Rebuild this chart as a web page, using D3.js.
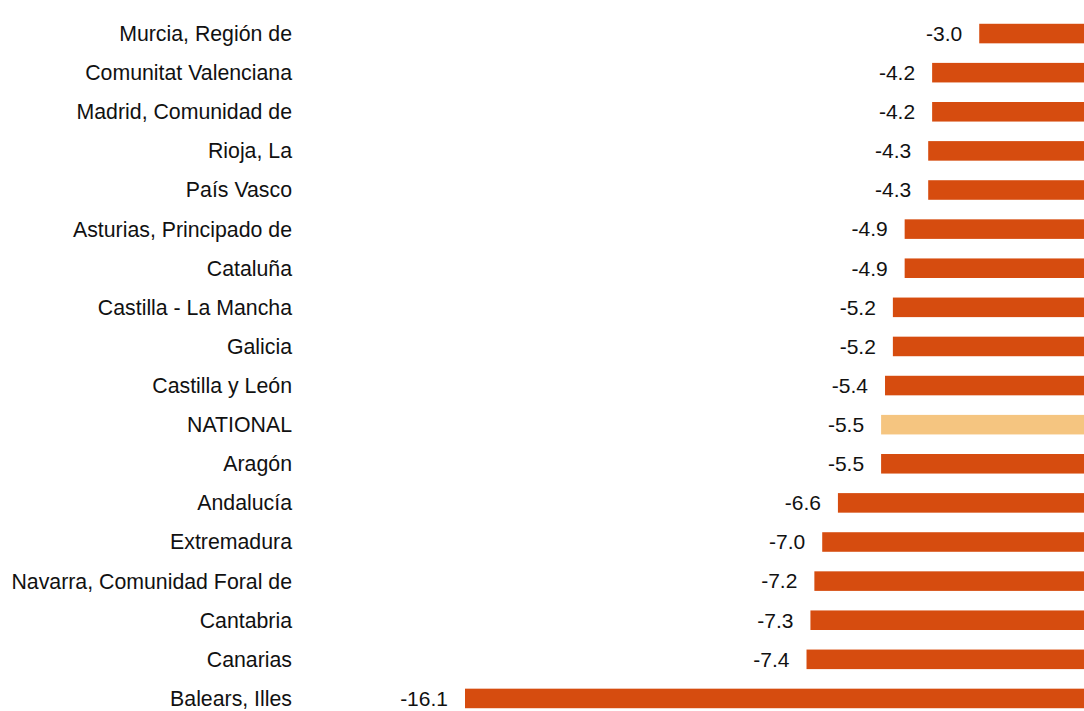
<!DOCTYPE html>
<html>
<head>
<meta charset="utf-8">
<script src="https://cdn.jsdelivr.net/npm/d3@7"></script>
<style>
  body { margin: 0; background: #fff; }
  text { font-family: "Liberation Sans", Arial, sans-serif; fill: #111; }
</style>
</head>
<body>
<div id="bar_chart"></div>
<script>
// regions, sorted from smallest drop to largest
var regions = ["Murcia, Región de", "Comunitat Valenciana", "Madrid, Comunidad de", "Rioja, La",
    "País Vasco", "Asturias, Principado de", "Cataluña", "Castilla - La Mancha", "Galicia",
    "Castilla y León", "NATIONAL", "Aragón", "Andalucía", "Extremadura",
    "Navarra, Comunidad Foral de", "Cantabria", "Canarias", "Balears, Illes"];
var values = [-3.0, -4.2, -4.2, -4.3, -4.3, -4.9, -4.9, -5.2, -5.2,
    -5.4, -5.5, -5.5, -6.6, -7.0, -7.2, -7.3, -7.4, -16.1];
var highlight = "NATIONAL";

var width = 1084, height = 711;
var labelRight = 292;

var data = regions.map(function (r, i) { return { name: r, value: values[i] }; });

var svg = d3.select("#bar_chart")
    .append("svg")
    .attr("width", width)
    .attr("height", height);

// x: zero sits just past the right edge, so bars run off the picture
var x = d3.scaleLinear()
    .domain([-16.1, 0])
    .range([465, 1097]);

var y = d3.scaleBand()
    .domain(regions)
    .range([14, 718])
    .paddingInner(0.5)
    .paddingOuter(0.25);

// bars
svg.selectAll(".bar")
    .data(data)
    .enter().append("rect")
    .attr("class", "bar")
    .attr("x", function (d) { return x(d.value); })
    .attr("y", function (d) { return y(d.name); })
    .attr("width", function (d) { return x(0) - x(d.value); })
    .attr("height", y.bandwidth())
    .attr("fill", function (d) { return d.name == highlight ? "#F5C580" : "#D64C0F"; });

// category labels
svg.selectAll(".cat")
    .data(data)
    .enter().append("text")
    .attr("class", "cat")
    .attr("x", labelRight)
    .attr("y", function (d) { return y(d.name) + y.bandwidth() / 2; })
    .attr("dy", "0.35em")
    .attr("text-anchor", "end")
    .style("font-size", "21.3px")
    .text(function (d) { return d.name; });

// value labels
svg.selectAll(".val")
    .data(data)
    .enter().append("text")
    .attr("class", "val")
    .attr("x", function (d) { return x(d.value) - 17; })
    .attr("y", function (d) { return y(d.name) + y.bandwidth() / 2; })
    .attr("dy", "0.35em")
    .attr("text-anchor", "end")
    .style("font-size", "21px")
    .text(function (d) { return d3.format(".1f")(d.value).replace("−", "-"); });
</script>
</body>
</html>
